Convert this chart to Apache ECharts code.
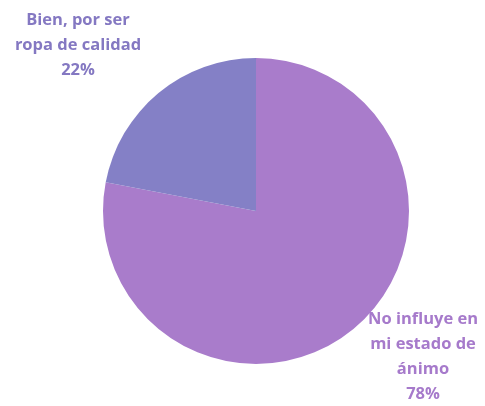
<!DOCTYPE html>
<html>
<head>
<meta charset="utf-8">
<script src="https://cdn.jsdelivr.net/npm/echarts@6/dist/echarts.min.js"></script>
<style>html,body{margin:0;padding:0;background:#fff}#c{width:485px;height:406px}</style>
</head>
<body>
<div id="c"></div>
<script>
var categories = ["No influye en\nmi estado de\nánimo", "Bien, por ser\nropa de calidad"];
var values = [78, 22];
var colors = ["#A97CCB", "#8480C6"];
var labelColors = ["#A67ACB", "#8478C2"];
var labelPos = [[423, 357], [78, 45]];

var chart = echarts.init(document.getElementById('c'));
chart.setOption({
  backgroundColor: '#ffffff',
  animation: false,
  series: [{
    type: 'pie',
    center: [256, 211],
    radius: 153,
    startAngle: 90,
    clockwise: true,
    data: categories.map(function (c, i) {
      return {
        name: c, value: values[i],
        itemStyle: { color: colors[i] },
        label: { color: labelColors[i] }
      };
    }),
    label: {
      show: true,
      position: 'outside',
      formatter: '{b}\n{d}%',
      fontFamily: 'Open Sans',
      fontWeight: 'bold',
      fontSize: 16.5,
      lineHeight: 25,
      align: 'center',
      overflow: 'none'
    },
    labelLine: { show: false },
    labelLayout: function (p) {
      var pos = labelPos[p.dataIndex];
      return { x: pos[0], y: pos[1], align: 'center', verticalAlign: 'middle', width: 200 };
    }
  }]
});
</script>
</body>
</html>
